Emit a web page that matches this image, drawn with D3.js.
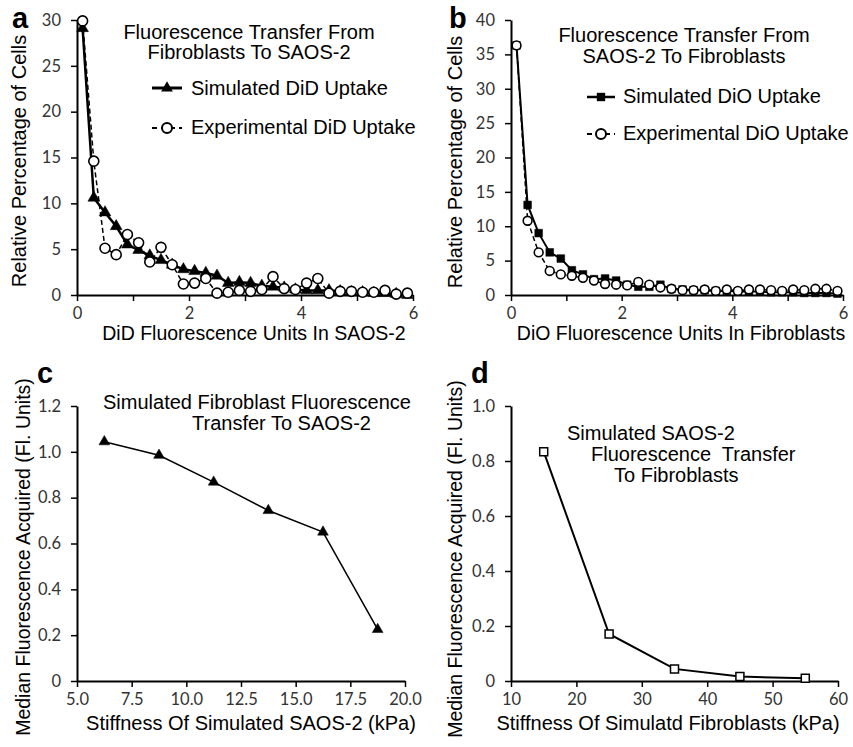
<!DOCTYPE html>
<html>
<head>
<meta charset="utf-8">
<script src="https://cdn.jsdelivr.net/npm/d3@7"></script>
<style>
  body { margin: 0; background: #fff; }
  .tick text { font-family: Lato, "Open Sans", sans-serif; font-size: 16.5px; fill: #333; }
  .lbl { font-family: "Liberation Sans", Arial, sans-serif; font-size: 20px; fill: #000; }
  .letter { font-family: "Liberation Sans", Arial, sans-serif; font-size: 29px; font-weight: bold; }
</style>
</head>
<body>
<div class="chart"></div>
<script>
// fluorescence bins (units), shared by panels a and b
var bins = [0.1,0.3,0.5,0.7,0.9,1.1,1.3,1.5,1.7,1.9,2.1,2.3,2.5,2.7,2.9,3.1,3.3,3.5,3.7,3.9,4.1,4.3,4.5,4.7,4.9,5.1,5.3,5.5,5.7,5.9];

// panel a: fibroblasts -> SAOS-2
var simDiD = [29.1,10.6,9.0,7.5,5.5,4.9,4.3,3.8,3.3,2.8,2.6,2.4,2.1,1.3,1.4,1.3,1.0,0.9,0.8,0.6,0.5,0.5,0.5,0.4,0.3,0.3,0.2,0.2,0.1,0.0];
var expDiD = [29.9,14.6,5.1,4.4,6.6,5.7,3.6,5.2,3.3,1.2,1.3,1.8,0.2,0.3,0.5,0.4,0.6,2.0,0.7,0.6,1.3,1.8,0.2,0.4,0.4,0.3,0.3,0.5,0.1,0.2];

// panel b: SAOS-2 -> fibroblasts
var simDiO = [36.3,13.1,9.0,6.2,5.3,3.6,3.0,2.3,2.4,2.1,1.5,1.2,1.2,1.5,0.9,0.8,0.7,0.7,0.6,0.6,0.5,0.5,0.5,0.4,0.4,0.4,0.3,0.3,0.3,0.2];
var expDiO = [36.3,10.8,6.2,3.5,3.0,2.8,2.5,2.1,1.6,1.5,1.4,1.9,1.5,1.1,0.9,0.7,0.7,0.8,0.6,0.8,0.6,0.8,0.8,0.7,0.6,0.8,0.7,0.9,0.9,0.6];

// panel c
var stiffSAOS = [6.25,8.75,11.25,13.75,16.25,18.75];
var medSAOS = [1.044,0.985,0.868,0.744,0.650,0.225];

// panel d
var stiffFib = [15,25,35,45,55];
var medFib = [0.834,0.171,0.044,0.016,0.010];

var svg = d3.select(".chart").append("svg")
    .attr("width", 853)
    .attr("height", 747);

function zip(xs, ys){
    return xs.map(function(x, i){ return {x: x, y: ys[i]}; });
}

function makeAxes(x, y, xTicks, yTicks, xFmt, yFmt){
    var g = svg.append("g");
    var y0 = y.range()[0];
    var x0 = x.range()[0];

    var ax = g.append("g")
        .attr("transform", "translate(0," + y0 + ")")
        .call(d3.axisBottom(x).tickValues(xTicks).tickSize(6).tickSizeOuter(0).tickPadding(6).tickFormat(xFmt));
    var ay = g.append("g")
        .attr("transform", "translate(" + x0 + ",0)")
        .call(d3.axisLeft(y).tickValues(yTicks).tickSize(6).tickSizeOuter(0).tickPadding(10).tickFormat(yFmt));

    g.selectAll(".domain").attr("stroke", "#000").attr("stroke-width", 2);
    g.selectAll(".tick line").attr("stroke", "#000").attr("stroke-width", 1.5);
    ax.selectAll(".tick text").attr("dy", "0.75em");
    return g;
}

function text(x, y, s, anchor, cls){
    return svg.append("text")
        .attr("class", cls || "lbl")
        .attr("x", x).attr("y", y)
        .attr("text-anchor", anchor || "middle")
        .attr("dominant-baseline", "middle")
        .text(s);
}

function letter(x, y, s){
    svg.append("text")
        .attr("class", "letter")
        .attr("x", x).attr("y", y)
        .text(s);
}

function yTitle(x, y, s, size){
    svg.append("text")
        .attr("class", "lbl")
        .attr("transform", "translate(" + x + "," + y + ") rotate(-90)")
        .attr("text-anchor", "middle")
        .attr("dominant-baseline", "middle")
        .style("font-size", size + "px")
        .text(s);
}

function drawLine(x, y, pts, width, dash){
    var line = d3.line().x(function(d){ return x(d.x); }).y(function(d){ return y(d.y); });
    svg.append("path")
        .datum(pts)
        .attr("d", line)
        .attr("fill", "none")
        .attr("stroke", "#000")
        .attr("stroke-width", width)
        .attr("stroke-dasharray", dash || null);
}

function drawSymbols(x, y, pts, type, size, fill, sw){
    svg.append("g").selectAll("path")
        .data(pts)
        .enter().append("path")
        .attr("d", d3.symbol().type(type).size(size))
        .attr("transform", function(d){ return "translate(" + x(d.x) + "," + y(d.y) + ")"; })
        .attr("fill", fill)
        .attr("stroke", "#000")
        .attr("stroke-width", sw);
}

function drawCircles(x, y, pts, r){
    svg.append("g").selectAll("circle")
        .data(pts)
        .enter().append("circle")
        .attr("cx", function(d){ return x(d.x); })
        .attr("cy", function(d){ return y(d.y); })
        .attr("r", r)
        .attr("fill", "#fff")
        .attr("stroke", "#000")
        .attr("stroke-width", 1.6);
}

var evenOnly = function(d){ return d % 2 === 0 ? d : ""; };
var dec = function(d){ return d === 0 ? "0" : d3.format(".1f")(d); };

// ---- panel a ----
var xA = d3.scaleLinear().domain([0, 6]).range([77, 413]);
var yA = d3.scaleLinear().domain([0, 30]).range([295, 20]);
makeAxes(xA, yA, [0,1,2,3,4,5,6], [0,5,10,15,20,25,30], evenOnly, d3.format("d"));
drawLine(xA, yA, zip(bins, simDiD), 2.5);
drawSymbols(xA, yA, zip(bins, simDiD), d3.symbolTriangle, 60, "#000", 0.5);
drawLine(xA, yA, zip(bins, expDiD), 1.5, "5,3");
drawCircles(xA, yA, zip(bins, expDiD), 5);

text(249, 34, "Fluorescence Transfer From");
text(249, 54, "Fibroblasts To SAOS-2");
svg.append("line").attr("x1", 152).attr("x2", 182).attr("y1", 88).attr("y2", 88).attr("stroke", "#000").attr("stroke-width", 3);
svg.append("path").attr("d", d3.symbol().type(d3.symbolTriangle).size(60)).attr("transform", "translate(167,88)");
text(191, 90, "Simulated DiD Uptake", "start");
svg.append("line").attr("x1", 152).attr("x2", 182).attr("y1", 128).attr("y2", 128).attr("stroke", "#000").attr("stroke-width", 1.8).attr("stroke-dasharray", "5,4");
svg.append("circle").attr("cx", 167).attr("cy", 128).attr("r", 5).attr("fill", "#fff").attr("stroke", "#000").attr("stroke-width", 2);
text(191, 129, "Experimental DiD Uptake", "start");
text(254, 335, "DiD Fluorescence Units In SAOS-2").style("font-size", "19.5px");
yTitle(21, 161, "Relative Percentage of Cells", 20);
letter(12, 28, "a");

// ---- panel b ----
var xB = d3.scaleLinear().domain([0, 6]).range([511, 843]);
var yB = d3.scaleLinear().domain([0, 40]).range([295, 20]);
makeAxes(xB, yB, [0,1,2,3,4,5,6], [0,5,10,15,20,25,30,35,40], evenOnly, d3.format("d"));
drawLine(xB, yB, zip(bins, simDiO), 2);
drawSymbols(xB, yB, zip(bins, simDiO), d3.symbolSquare, 60, "#000", 0.5);
drawLine(xB, yB, zip(bins, expDiO), 1.5, "5,3");
drawCircles(xB, yB, zip(bins, expDiO), 4.4);

text(684, 37, "Fluorescence Transfer From");
text(684, 58, "SAOS-2 To Fibroblasts");
svg.append("line").attr("x1", 587).attr("x2", 615).attr("y1", 97).attr("y2", 97).attr("stroke", "#000").attr("stroke-width", 2.5);
svg.append("path").attr("d", d3.symbol().type(d3.symbolSquare).size(70)).attr("transform", "translate(601,97)");
text(623, 98, "Simulated DiO Uptake", "start");
svg.append("line").attr("x1", 587).attr("x2", 615).attr("y1", 134).attr("y2", 134).attr("stroke", "#000").attr("stroke-width", 1.8).attr("stroke-dasharray", "5,4");
svg.append("circle").attr("cx", 601).attr("cy", 134).attr("r", 5).attr("fill", "#fff").attr("stroke", "#000").attr("stroke-width", 2);
text(623, 135, "Experimental DiO Uptake", "start");
text(681, 335, "DiO Fluorescence Units In Fibroblasts").style("font-size", "19.5px");
yTitle(457, 162, "Relative Percentage of Cells", 20);
letter(449, 28, "b");

// ---- panel c ----
var xC = d3.scaleLinear().domain([5, 20]).range([77, 405]);
var yC = d3.scaleLinear().domain([0, 1.2]).range([681, 406]);
makeAxes(xC, yC, [5,7.5,10,12.5,15,17.5,20], [0,0.2,0.4,0.6,0.8,1.0,1.2], d3.format(".1f"), dec);
drawLine(xC, yC, zip(stiffSAOS, medSAOS), 1.5);
drawSymbols(xC, yC, zip(stiffSAOS, medSAOS), d3.symbolTriangle, 50, "#000", 0.5);
text(103, 404, "Simulated Fibroblast Fluorescence", "start");
text(192, 425, "Transfer To SAOS-2", "start");
text(251, 725, "Stiffness Of Simulated SAOS-2 (kPa)");
yTitle(25, 557, "Median Fluorescence Acquired (Fl. Units)", 19.5);
letter(37, 383, "c");

// ---- panel d ----
var xD = d3.scaleLinear().domain([10, 60]).range([511, 838]);
var yD = d3.scaleLinear().domain([0, 1.0]).range([681, 406]);
makeAxes(xD, yD, [10,20,30,40,50,60], [0,0.2,0.4,0.6,0.8,1.0], d3.format("d"), dec);
drawLine(xD, yD, zip(stiffFib, medFib), 2);
drawSymbols(xD, yD, zip(stiffFib, medFib), d3.symbolSquare, 64, "#fff", 1.5);
text(567, 435, "Simulated SAOS-2", "start");
text(591, 456, "Fluorescence  Transfer", "start").style("white-space", "pre");
text(614, 477, "To Fibroblasts", "start");
text(668, 725, "Stiffness Of Simulatd Fibroblasts (kPa)");
yTitle(457, 559, "Median Fluorescence Acquired (Fl. Units)", 19.5);
letter(471, 383, "d");
</script>
</body>
</html>
